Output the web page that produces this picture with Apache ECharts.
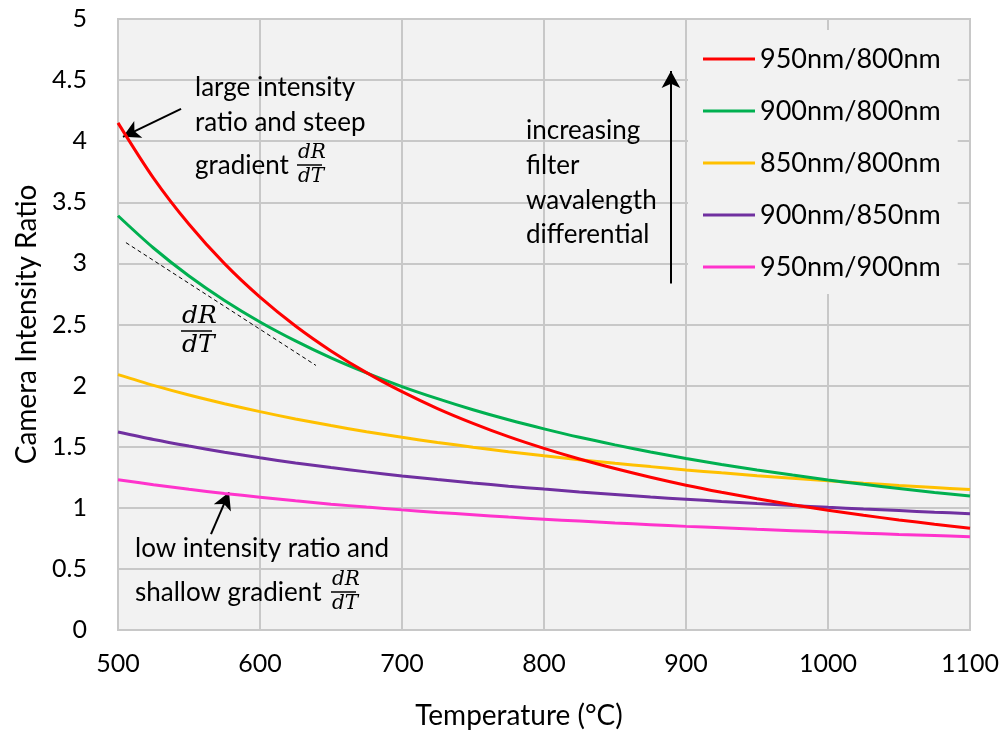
<!DOCTYPE html>
<html>
<head>
<meta charset="utf-8">
<script src="https://cdn.jsdelivr.net/npm/echarts@6/dist/echarts.min.js"></script>
<style>
  html, body { margin: 0; padding: 0; background: #fff; }
  #main { width: 1005px; height: 732px; }
</style>
</head>
<body>
<div id="main"></div>
<script>
// temperature (°C) sample points
let temps = [500, 525, 550, 575, 600, 625, 650, 675, 700, 725, 750, 775, 800,
             825, 850, 875, 900, 925, 950, 975, 1000, 1025, 1050, 1075, 1100];
// camera intensity ratio
let r950_800 = [4.150, 3.698, 3.320, 2.998, 2.724, 2.488, 2.284, 2.106, 1.950, 1.812, 1.691, 1.582, 1.486,
                1.399, 1.321, 1.250, 1.185, 1.127, 1.074, 1.025, 0.980, 0.939, 0.901, 0.866, 0.833];
let r900_800 = [3.390, 3.126, 2.897, 2.697, 2.521, 2.366, 2.227, 2.104, 1.992, 1.893, 1.802, 1.720, 1.646,
                1.577, 1.515, 1.457, 1.404, 1.355, 1.310, 1.268, 1.228, 1.192, 1.158, 1.125, 1.096];
let r850_800 = [2.090, 2.002, 1.923, 1.852, 1.787, 1.727, 1.673, 1.623, 1.577, 1.535, 1.496, 1.459, 1.425,
                1.394, 1.364, 1.337, 1.310, 1.286, 1.263, 1.241, 1.221, 1.201, 1.183, 1.166, 1.149];
let r900_850 = [1.620, 1.559, 1.505, 1.455, 1.409, 1.367, 1.329, 1.294, 1.261, 1.231, 1.203, 1.177, 1.153,
                1.130, 1.109, 1.088, 1.070, 1.052, 1.035, 1.019, 1.004, 0.990, 0.977, 0.964, 0.952];
let r950_900 = [1.230, 1.189, 1.151, 1.117, 1.087, 1.057, 1.030, 1.006, 0.983, 0.962, 0.943, 0.924, 0.907,
                0.891, 0.876, 0.862, 0.848, 0.836, 0.824, 0.813, 0.802, 0.792, 0.782, 0.773, 0.764];

let names = ['950nm/800nm', '900nm/800nm', '850nm/800nm', '900nm/850nm', '950nm/900nm'];
let colors = ['#ff0000', '#00b050', '#ffc000', '#7030a0', '#ff33cc'];
let values = [r950_800, r900_800, r850_800, r900_850, r950_900];

let font = 'Lato, "Open Sans", sans-serif';
let mathFont = '"DejaVu Serif", "Liberation Serif", serif';

function pairs(ys) {
    return temps.map(function (t, i) { return [t, ys[i]]; });
}

// 注释箭头 / 切线 (data coords)
let arrowStyle = { color: '#000', width: 2, type: 'solid' };
let notes = [
    [{ coord: [544.4, 4.265], lineStyle: arrowStyle }, { coord: [503.5, 4.036] }],
    [{ coord: [565.5, 0.784], lineStyle: arrowStyle }, { coord: [578.2, 1.127] }],
    [{ coord: [889.4, 2.835], lineStyle: arrowStyle }, { coord: [889.4, 4.575] }],
    [{ coord: [505.6, 3.17], symbol: 'none', lineStyle: { color: '#000', width: 1, type: [4, 3] } },
     { coord: [639.4, 2.165], symbol: 'none' }]
];

let myChart = echarts.init(document.getElementById('main'));

let series = names.map(function (name, i) {
    let s = {
        name: name,
        type: 'line',
        data: pairs(values[i]),
        smooth: 0.3,
        showSymbol: false,
        symbol: 'none',
        lineStyle: { width: 3, color: colors[i] },
        itemStyle: { color: colors[i] },
        z: 10 - i
    };
    if (i === 0) {
        s.markLine = {
            silent: true,
            symbol: ['none', 'arrow'],
            symbolSize: [14, 17],
            label: { show: false },
            lineStyle: arrowStyle,
            data: notes
        };
    }
    return s;
});

// fraction dR/dT drawn as text + bar
function frac(x, yMid, size) {
    return [
        { type: 'text', x: x, y: yMid - 2, style: { text: 'dR', font: 'italic ' + size + 'px ' + mathFont, fill: '#000', textAlign: 'left', textVerticalAlign: 'bottom' }, z: 20 },
        { type: 'line', shape: { x1: x - 1, y1: yMid, x2: x + size * 1.2, y2: yMid }, style: { stroke: '#000', lineWidth: 1.5 }, z: 20 },
        { type: 'text', x: x, y: yMid + 2, style: { text: 'dT', font: 'italic ' + size + 'px ' + mathFont, fill: '#000', textAlign: 'left', textVerticalAlign: 'top' }, z: 20 }
    ];
}

function txt(x, y, s) {
    return { type: 'text', x: x, y: y, style: { text: s, font: '26px ' + font, fill: '#000', textVerticalAlign: 'middle' }, z: 20 };
}

let graphics = [
    txt(195, 88, 'large intensity'),
    txt(195, 123, 'ratio and steep'),
    txt(195, 166, 'gradient'),
    txt(135, 549, 'low intensity ratio and'),
    txt(135, 593, 'shallow gradient'),
    txt(526, 131, 'increasing'),
    txt(526, 166, 'filter'),
    txt(526, 201, 'wavalength'),
    txt(526, 235, 'differential'),
    // x 轴标题
    { type: 'text', x: 519, y: 716,
      style: { text: 'Temperature (°C)', font: '28px ' + font, fill: '#000', textAlign: 'center', textVerticalAlign: 'middle' }, z: 20 }
].concat(frac(298, 165, 20), frac(332, 592, 20), frac(182, 331, 25));

let option = {
    backgroundColor: '#ffffff',
    animation: false,
    color: colors,
    textStyle: { fontFamily: font },
    grid: {
        left: 118, right: 35, top: 19, bottom: 102,
        show: true,
        backgroundColor: '#f2f2f2',
        borderColor: '#c8c8c8',
        borderWidth: 2
    },
    legend: {
        orient: 'vertical',
        left: 688,
        top: 30,
        padding: [14, 17, 12, 15],
        backgroundColor: '#f2f2f2',
        itemWidth: 52,
        itemHeight: 3,
        itemGap: 22,
        icon: 'rect',
        data: names,
        textStyle: { fontSize: 27, fontFamily: font, color: '#000', lineHeight: 30, padding: [0, 0, 0, 0] }
    },
    xAxis: {
        type: 'value',
        min: 500, max: 1100, interval: 100,
        axisLine: { show: false },
        axisTick: { show: false },
        axisLabel: { fontSize: 25, color: '#000', margin: 21, fontFamily: font, formatter: function (v) { return String(v); } },
        splitLine: { show: true, lineStyle: { color: '#c8c8c8', width: 2 } }
    },
    yAxis: {
        type: 'value',
        min: 0, max: 5, interval: 0.5,
        name: 'Camera Intensity Ratio',
        nameLocation: 'middle',
        nameGap: 77,
        nameTextStyle: { fontSize: 28, color: '#000', fontFamily: font },
        axisLine: { show: false },
        axisTick: { show: false },
        axisLabel: { fontSize: 25, color: '#000', margin: 31, fontFamily: font },
        splitLine: { show: true, lineStyle: { color: '#c8c8c8', width: 2 } }
    },
    graphic: graphics,
    series: series
};
myChart.setOption(option);
</script>
</body>
</html>
